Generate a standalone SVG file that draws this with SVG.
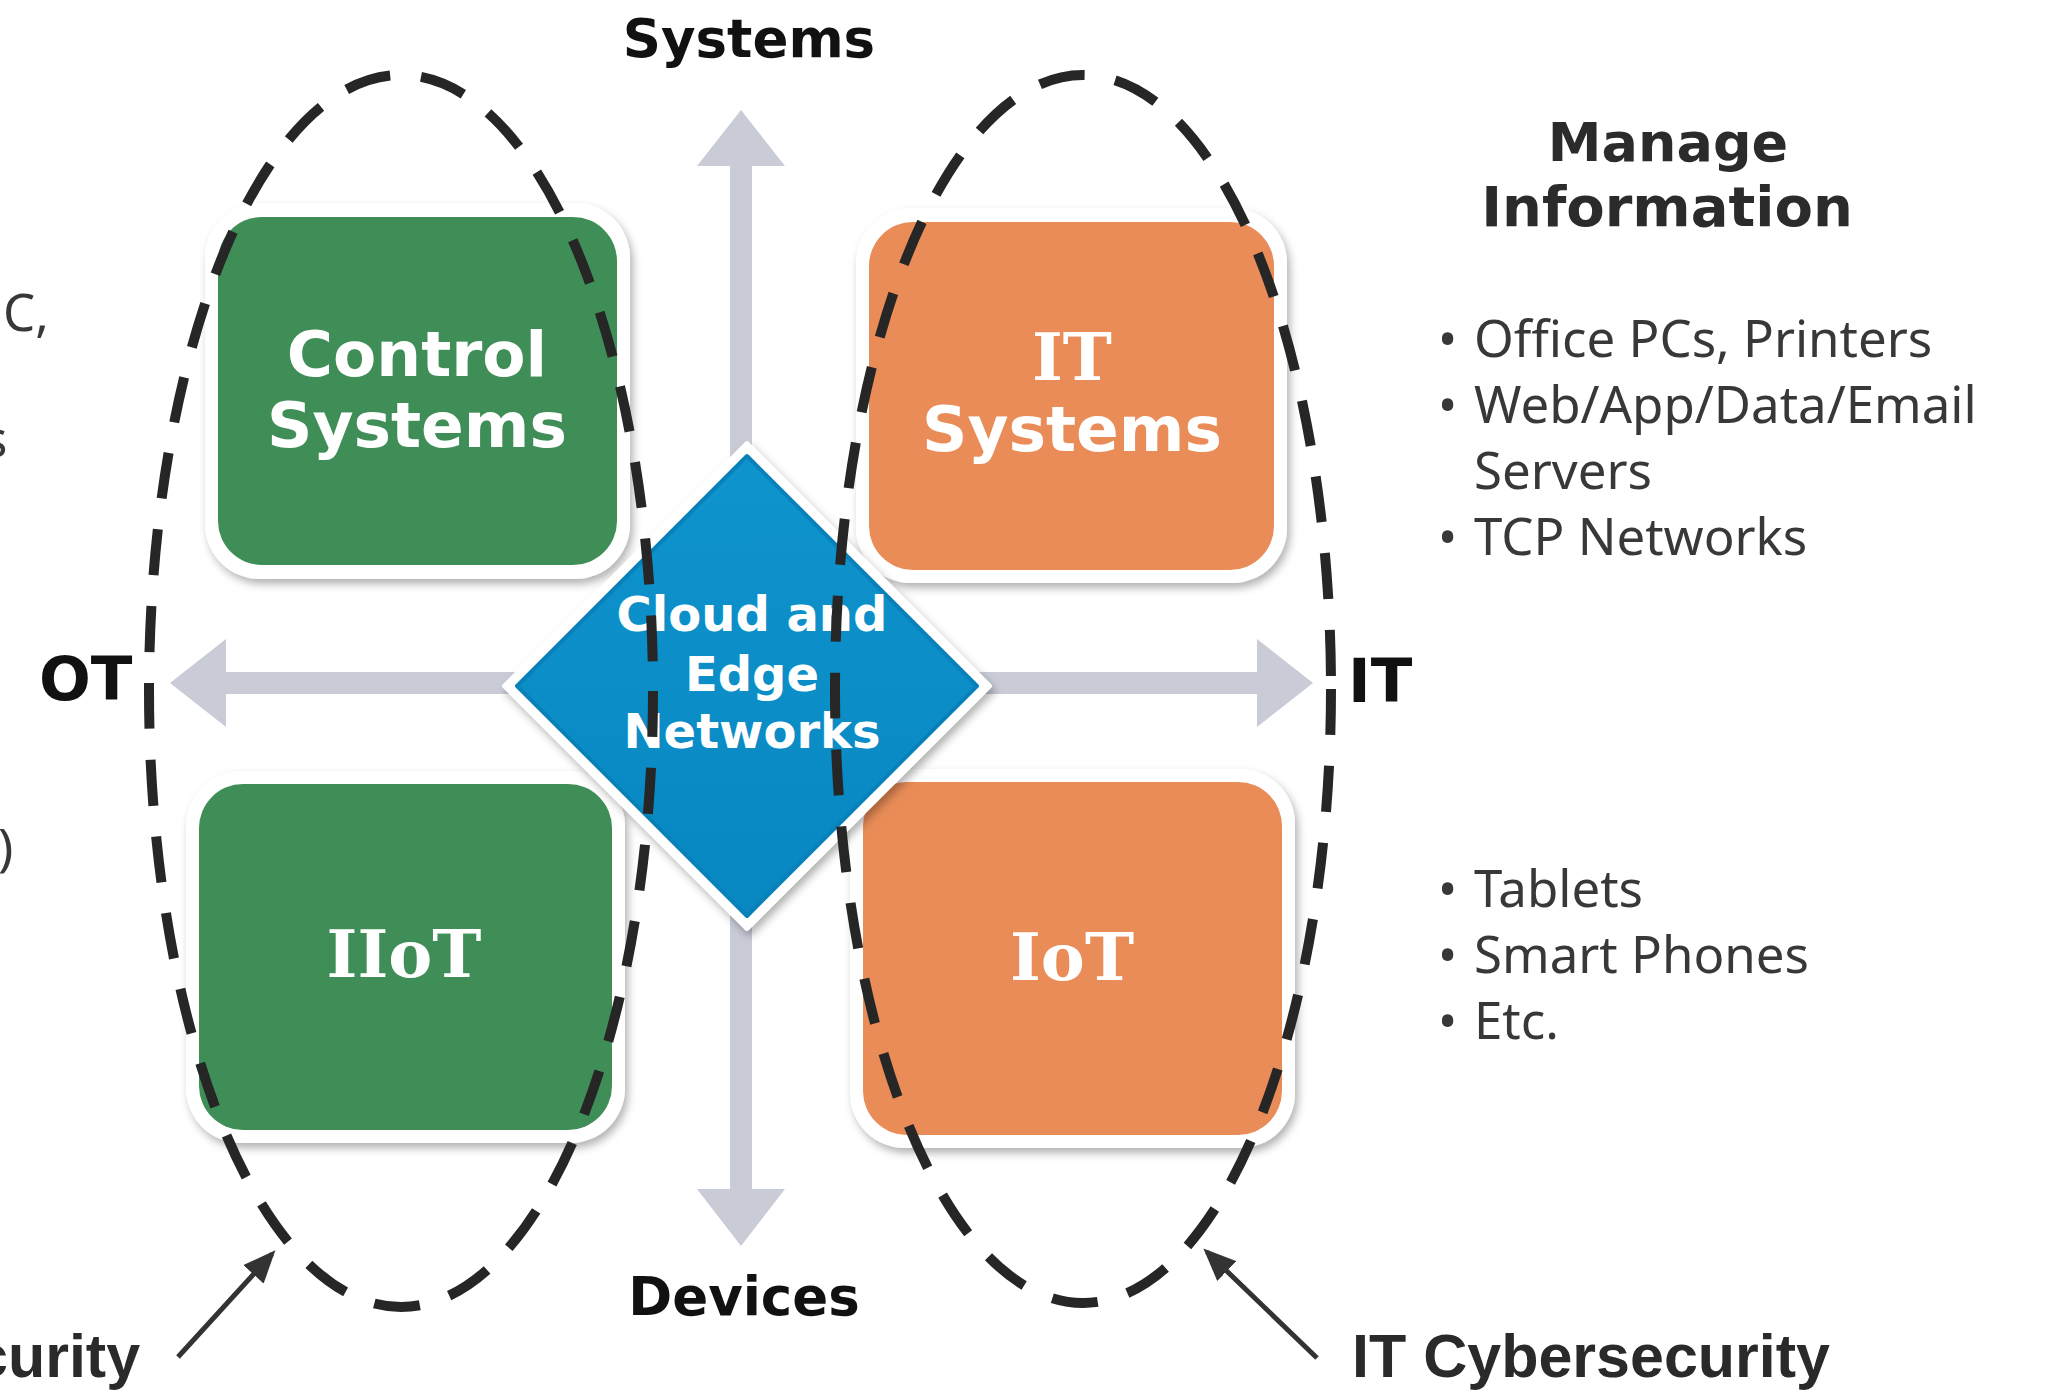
<svg xmlns="http://www.w3.org/2000/svg" width="2049" height="1392" viewBox="0 0 2049 1392">
<defs>
<style>
.axis{fill:#c9cbd7}
.card{fill:#fff;filter:url(#sh)}
.green{fill:#3f8e57}
.orange{fill:#e98c57}
.lbl{font-family:"DejaVu Sans",Verdana,sans-serif;font-weight:bold;fill:#fff;text-anchor:middle}
.serif{font-family:"DejaVu Serif",serif;font-weight:bold;fill:#fff;text-anchor:middle}
.axl{font-family:"DejaVu Sans",Verdana,sans-serif;font-weight:bold;fill:#111}
.hd{font-family:"DejaVu Sans",Verdana,sans-serif;font-weight:bold;fill:#2b2b2b;text-anchor:middle}
.zone{fill:none;stroke:#262626;stroke-width:10;stroke-dasharray:46 31}
.bul{font-family:"Noto Sans","Open Sans",sans-serif;font-size:51px;fill:#383838}
.ptr{stroke:#333;stroke-width:5;fill:none;marker-end:url(#ah)}
.cyb{font-family:"Liberation Sans",Arial,sans-serif;font-weight:bold;font-size:61px;fill:#2a2a2a}
</style>
<filter id="sh" x="-10%" y="-10%" width="125%" height="125%"><feDropShadow dx="3" dy="5" stdDeviation="4" flood-color="#000" flood-opacity="0.3"/></filter>
<linearGradient id="bg" x1="0" y1="0" x2="0" y2="1"><stop offset="0" stop-color="#0f94cd"/><stop offset="1" stop-color="#0887c1"/></linearGradient>
<marker id="ah" markerWidth="6.5" markerHeight="5.5" refX="5.5" refY="2.75" orient="auto" markerUnits="strokeWidth"><path d="M0,0 L6.5,2.75 L0,5.5 z" fill="#333"/></marker>
</defs>
<rect width="2049" height="1392" fill="#fff"/>

<g id="connectors">
  <g id="axis-vertical">
    <rect class="axis" x="730" y="160" width="22" height="1032"/>
    <polygon class="axis" points="741,110 785,166 697,166"/>
    <polygon class="axis" points="741,1246 785,1189 697,1189"/>
  </g>
  <g id="axis-horizontal">
    <rect class="axis" x="222" y="672" width="1038" height="22"/>
    <polygon class="axis" points="170,683 226,639 226,727"/>
    <polygon class="axis" points="1313,683 1257,639 1257,727"/>
  </g>
  <line id="ptr-ot" class="ptr" x1="178" y1="1357" x2="272" y2="1254"/>
  <line id="ptr-it" class="ptr" x1="1317" y1="1358" x2="1207" y2="1252"/>
</g>

<g id="node-control-systems">
  <rect class="card" x="205" y="203" width="425" height="376" rx="55"/>
  <rect class="green" x="218" y="217" width="399" height="348" rx="44"/>
  <text class="lbl" font-size="63" x="417" y="376">Control</text>
  <text class="lbl" font-size="63" x="417" y="447">Systems</text>
</g>

<g id="node-it-systems">
  <rect class="card" x="856" y="208" width="431" height="375" rx="55"/>
  <rect class="orange" x="869" y="222" width="405" height="348" rx="44"/>
  <text class="serif" font-size="66" x="1072" y="380">IT</text>
  <text class="lbl" font-size="63" x="1072" y="451">Systems</text>
</g>

<g id="node-iiot">
  <rect class="card" x="186" y="771" width="439" height="372" rx="55"/>
  <rect class="green" x="199" y="784" width="413" height="346" rx="44"/>
  <text class="serif" font-size="66" x="404" y="977">IIoT</text>
</g>

<g id="node-iot">
  <rect class="card" x="850" y="769" width="445" height="379" rx="55"/>
  <rect class="orange" x="863" y="782" width="419" height="353" rx="44"/>
  <text class="serif" font-size="66" x="1072" y="980">IoT</text>
</g>

<g id="node-cloud-edge">
  <polygon points="747,443 990,686 747,929 504,686" fill="#fff" stroke="#fff" stroke-width="4" stroke-linejoin="round" filter="url(#sh)"/>
  <polygon points="747,456 977,686 747,916 517,686" fill="url(#bg)" stroke="#0880b8" stroke-width="4" stroke-linejoin="round"/>
  <text class="lbl" font-size="48" x="752" y="631">Cloud and</text>
  <text class="lbl" font-size="48" x="752" y="691">Edge</text>
  <text class="lbl" font-size="48" x="752" y="748">Networks</text>
</g>

<g id="zone-ot">
  <ellipse class="zone" cx="401" cy="691" rx="252" ry="616"/>
</g>
<g id="zone-it">
  <ellipse class="zone" cx="1083" cy="689" rx="248" ry="614"/>
</g>

<g id="labels">
  <text class="axl" font-size="53" x="749" y="57" text-anchor="middle">Systems</text>
  <text class="axl" font-size="53" x="744" y="1315" text-anchor="middle">Devices</text>
  <text class="axl" font-size="61" x="39" y="700">OT</text>
  <text class="axl" font-size="61" x="1348" y="702">IT</text>
  <text class="hd" font-size="54" x="1668" y="161">Manage</text>
  <text class="hd" font-size="56" x="1667" y="226">Information</text>
  <text class="bul"><tspan x="1438" y="357">•</tspan><tspan x="1474" y="357">Office PCs, Printers</tspan></text>
  <text class="bul"><tspan x="1438" y="423">•</tspan><tspan x="1474" y="423">Web/App/Data/Email</tspan></text>
  <text class="bul" x="1474" y="489">Servers</text>
  <text class="bul"><tspan x="1438" y="555">•</tspan><tspan x="1474" y="555">TCP Networks</tspan></text>
  <text class="bul"><tspan x="1438" y="907">•</tspan><tspan x="1474" y="907">Tablets</tspan></text>
  <text class="bul"><tspan x="1438" y="973">•</tspan><tspan x="1474" y="973">Smart Phones</tspan></text>
  <text class="bul"><tspan x="1438" y="1039">•</tspan><tspan x="1474" y="1039">Etc.</tspan></text>
  <text class="bul" x="3" y="331">C,</text>
  <text class="bul" x="-17" y="457">s</text>
  <text class="bul" x="-2" y="866">)</text>
  <text class="cyb" x="-26" y="1377">curity</text>
  <text class="cyb" x="1352" y="1377">IT Cybersecurity</text>
</g>
</svg>
